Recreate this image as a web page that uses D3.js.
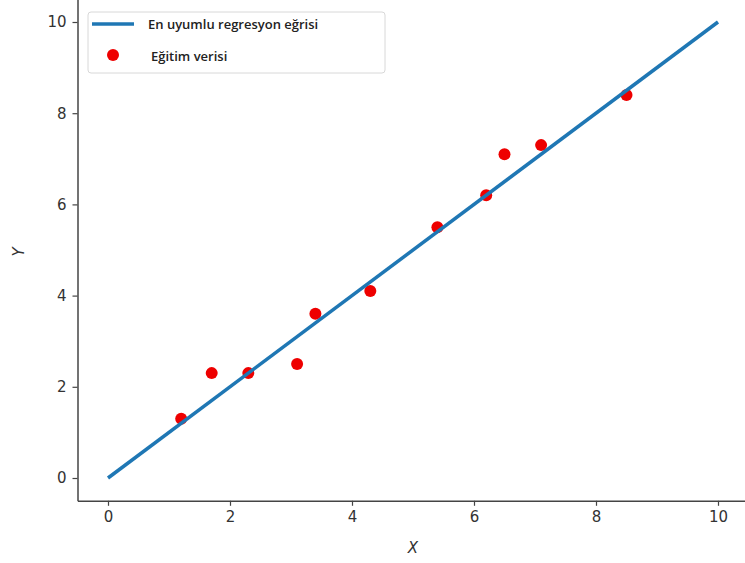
<!DOCTYPE html>
<html>
<head>
<meta charset="utf-8">
<script src="https://cdn.jsdelivr.net/npm/d3@7"></script>
<style>
  body { margin: 0; background: #fff; }
  svg { display: block; }
</style>
</head>
<body>
<svg id="chart" width="745" height="563"></svg>
<script>
// training points
const trainX = [1.2, 1.7, 2.3, 3.1, 3.4, 4.3, 5.4, 6.2, 6.5, 7.1, 8.5];
const trainY = [1.3, 2.3, 2.3, 2.5, 3.6, 4.1, 5.5, 6.2, 7.1, 7.3, 8.4];
// best-fit line endpoints
const lineX = [0, 10];
const lineY = [0, 10];
const xTicks = [0, 2, 4, 6, 8, 10];
const yTicks = [0, 2, 4, 6, 8, 10];
const legendLabels = ["En uyumlu regresyon eğrisi", "Eğitim verisi"];

const svg = d3.select("#chart");
const width = 745, height = 563;

// axes run from -0.5 to 10.5, right/top spines fall off the picture
const x = d3.scaleLinear().domain([-0.5, 10.5]).range([77.5, 748.5]);
const y = d3.scaleLinear().domain([-0.5, 10.5]).range([500.8, -0.8]);

const g = svg.append("g");

// points first, line drawn over them
g.selectAll(".pt")
  .data(trainX.map((d, i) => ({ x: d, y: trainY[i] })))
  .enter()
  .append("circle")
  .attr("cx", d => x(d.x))
  .attr("cy", d => y(d.y))
  .attr("r", 6)
  .attr("fill", "#ee0000");

g.append("path")
  .datum(lineX.map((d, i) => [d, lineY[i]]))
  .attr("d", d3.line().x(d => x(d[0])).y(d => y(d[1])))
  .attr("stroke", "#1f77b4")
  .attr("stroke-width", 3.5)
  .attr("fill", "none");

// axes
const xAxis = g.append("g")
  .attr("transform", `translate(0,${y(-0.5)})`)
  .call(d3.axisBottom(x).tickValues(xTicks).tickSize(5).tickPadding(6).tickSizeOuter(0));
const yAxis = g.append("g")
  .attr("transform", `translate(${x(-0.5)},0)`)
  .call(d3.axisLeft(y).tickValues(yTicks).tickSize(5).tickPadding(6).tickSizeOuter(0));

[xAxis, yAxis].forEach(a => {
  a.select(".domain").attr("stroke", "#444").attr("stroke-width", 1.5);
  a.selectAll(".tick line").attr("stroke", "#444").attr("stroke-width", 1.2);
  a.selectAll(".tick text")
    .attr("fill", "#333")
    .style("font-family", "'DejaVu Sans', sans-serif")
    .style("font-size", "15px");
});

svg.append("text")
  .attr("x", 413).attr("y", 553)
  .attr("text-anchor", "middle")
  .style("font-family", "'DejaVu Sans', sans-serif")
  .style("font-style", "italic")
  .style("font-size", "15px")
  .attr("fill", "#333")
  .text("X");

svg.append("text")
  .attr("transform", "translate(24,252) rotate(-90)")
  .attr("text-anchor", "middle")
  .style("font-family", "'DejaVu Sans', sans-serif")
  .style("font-style", "italic")
  .style("font-size", "15px")
  .attr("fill", "#333")
  .text("Y");

// legend
const leg = svg.append("g").attr("transform", "translate(88,12)");
leg.append("rect")
  .attr("width", 297).attr("height", 61).attr("rx", 3)
  .attr("fill", "#fff").attr("stroke", "#d8d8d8");
leg.append("line")
  .attr("x1", 4).attr("x2", 46).attr("y1", 12).attr("y2", 12)
  .attr("stroke", "#1f77b4").attr("stroke-width", 3.5);
leg.append("circle")
  .attr("cx", 25).attr("cy", 43).attr("r", 6).attr("fill", "#ee0000");
leg.selectAll(".lab")
  .data(legendLabels)
  .enter()
  .append("text")
  .attr("x", (d, i) => i === 0 ? 60 : 63)
  .attr("y", (d, i) => i === 0 ? 17 : 49)
  .style("font-family", "'Open Sans', sans-serif")
  .style("font-weight", 600)
  .style("font-size", "13px")
  .attr("fill", "#222")
  .text(d => d);
</script>
</body>
</html>
